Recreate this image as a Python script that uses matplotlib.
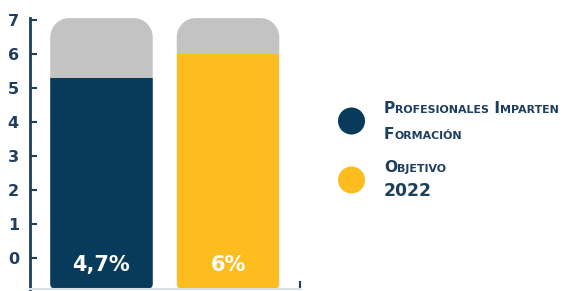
import numpy as np
import matplotlib
matplotlib.use('Agg')
import matplotlib.pyplot as plt
from matplotlib.path import Path
from matplotlib.patches import PathPatch, Rectangle, Circle

# data
categories = ['Profesionales Imparten Formación', 'Objetivo 2022']
legend_lines = [['Profesionales Imparten', 'Formación'], ['Objetivo', '2022']]
bar_heights = [5.3, 6.0]          # filled height on the 0-7 scale
bar_labels = ['4,7%', '6%']
track_top = 7.05                  # grey track height
y_ticks = [0, 1, 2, 3, 4, 5, 6, 7]

NAVY = '#073a5b'
YELLOW = '#fdbd1e'
GREY = '#c3c3c3'
AXIS = '#1d3e5e'
colors = [NAVY, YELLOW]

W, H = 576, 291
fig = plt.figure(figsize=(W / 100, H / 100), dpi=100)

# main axes, placed in pixel terms
YMIN, YMAX = -0.92, 7.2
XMIN, XMAX = -0.565, 1.569
ax = fig.add_axes([30 / W, 2 / H, 270 / W, 276 / H])
ax.set_xlim(XMIN, XMAX)
ax.set_ylim(YMIN, YMAX)

px_x = (XMAX - XMIN) / 270.0     # data units per pixel
px_y = (YMAX - YMIN) / 276.0


def rounded_path(x0, x1, y0, y1, rt, rb):
    """Rectangle with top corners rounded by rt px and bottom by rb px."""
    k = 0.5523
    rxt, ryt = rt * px_x, rt * px_y
    rxb, ryb = rb * px_x, rb * px_y
    verts = [
        (x0 + rxb, y0), (x1 - rxb, y0),
        (x1 - rxb + k * rxb, y0), (x1, y0 + ryb - k * ryb), (x1, y0 + ryb),
        (x1, y1 - ryt),
        (x1, y1 - ryt + k * ryt), (x1 - rxt + k * rxt, y1), (x1 - rxt, y1),
        (x0 + rxt, y1),
        (x0 + rxt - k * rxt, y1), (x0, y1 - ryt + k * ryt), (x0, y1 - ryt),
        (x0, y0 + ryb),
        (x0, y0 + ryb - k * ryb), (x0 + rxb - k * rxb, y0), (x0 + rxb, y0),
        (x0 + rxb, y0),
    ]
    C = Path.CURVE4
    codes = ([Path.MOVETO, Path.LINETO, C, C, C, Path.LINETO, C, C, C,
              Path.LINETO, C, C, C, Path.LINETO, C, C, C, Path.CLOSEPOLY])
    return Path(verts, codes)


bar_w = 0.81
for i, (val, lab, col) in enumerate(zip(bar_heights, bar_labels, colors)):
    x0, x1 = i - bar_w / 2, i + bar_w / 2
    track = PathPatch(rounded_path(x0, x1, YMIN, track_top, 19, 5),
                      facecolor=GREY, edgecolor='none', zorder=1)
    ax.add_patch(track)
    fill = Rectangle((x0, YMIN), bar_w, val - YMIN, facecolor=col,
                     edgecolor='none', zorder=2)
    fill.set_clip_path(track)
    ax.add_patch(fill)
    ax.text(i, -0.2, lab, ha='center', va='center', color='white',
            fontsize=15, fontfamily='DejaVu Sans', fontweight='bold', zorder=3)

for s in ('top', 'right'):
    ax.spines[s].set_visible(False)
ax.spines['left'].set_color(AXIS)
ax.spines['left'].set_linewidth(2)
ax.spines['left'].set_bounds(YMIN, 7.05)
ax.spines['bottom'].set_color('#d9e0e6')
ax.spines['bottom'].set_linewidth(1.5)

ax.set_yticks(y_ticks)
ax.set_yticklabels([str(t) for t in y_ticks])
ax.tick_params(axis='y', direction='in', length=5, width=1.5, color=AXIS,
               labelcolor=AXIS, pad=8, labelsize=11.5)
for t in ax.get_yticklabels():
    t.set_fontweight('bold')
ax.set_xticks([XMAX])
ax.set_xticklabels([''])
ax.tick_params(axis='x', direction='in', length=6, width=1.5, color=AXIS)

# legend drawn on a pixel overlay
ov = fig.add_axes([0, 0, 1, 1])
ov.set_xlim(0, W)
ov.set_ylim(H, 0)
ov.axis('off')

renderer = fig.canvas.get_renderer()


def smallcaps(x, y, text, big=11.2, small=7.9, digit=12.3):
    runs = []
    for ch in text:
        kind = 'small' if ch.islower() else ('digit' if ch.isdigit() else 'big')
        if runs and runs[-1][0] == kind:
            runs[-1][1] += ch
        else:
            runs.append([kind, ch])
    sizes = {'big': big, 'small': small, 'digit': digit}
    for kind, s in runs:
        t = ov.text(x, y, s.upper(), fontsize=sizes[kind],
                    fontweight='bold', color=AXIS, fontfamily='DejaVu Sans',
                    ha='left', va='baseline')
        x += t.get_window_extent(renderer).width


circle_y = [121, 180]
baselines = [[113, 139], [172, 196]]
for col, cy, lines, bls in zip(colors, circle_y, legend_lines, baselines):
    ov.add_patch(Circle((351.5, cy), 13.5, facecolor=col, edgecolor='none'))
    for line, bl in zip(lines, bls):
        smallcaps(384, bl, line)

fig.savefig('out.png', dpi=100)
